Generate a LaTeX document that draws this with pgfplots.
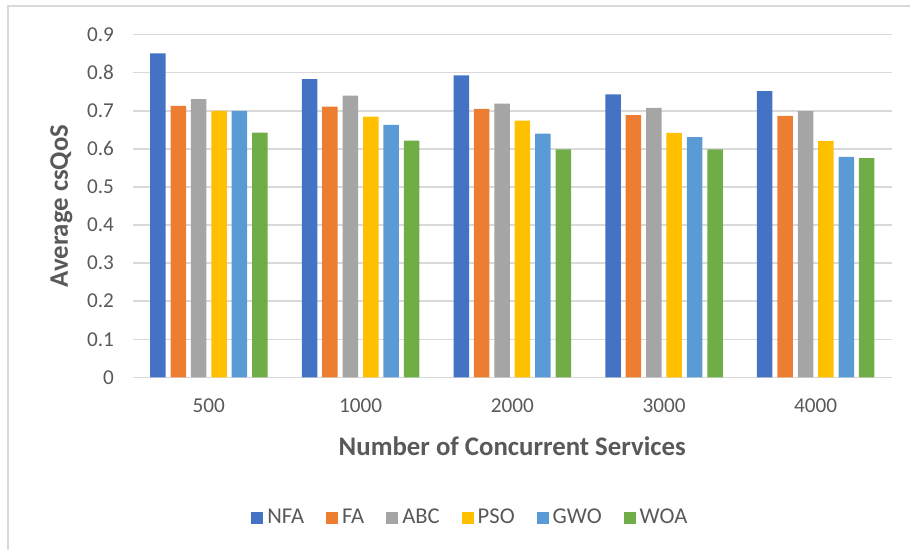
\documentclass[border=0pt]{standalone}
\usepackage{fontspec}
\setmainfont{Carlito}
\usepackage{pgfplots}
\pgfplotsset{compat=1.18}

\definecolor{cNFA}{HTML}{4472C4}
\definecolor{cFA}{HTML}{ED7D31}
\definecolor{cABC}{HTML}{A5A5A5}
\definecolor{cPSO}{HTML}{FFC000}
\definecolor{cGWO}{HTML}{5B9BD5}
\definecolor{cWOA}{HTML}{70AD47}
\definecolor{txt}{HTML}{595959}
\definecolor{grid}{HTML}{D9D9D9}

\begin{document}
\begin{tikzpicture}
% page area and the thin frame of the chart area
\useasboundingbox (-66.5pt,-86.35pt) rectangle (388.5pt,188.65pt);
\begin{scope}
\clip (-66.5pt,-86.35pt) rectangle (388.5pt,188.65pt);
\draw[grid, line width=0.7pt] (-62.5pt,-95pt) -- (-62.5pt,185.65pt) -- (400pt,185.65pt);
\end{scope}
\begin{axis}[
  at={(0,0)}, anchor=south west,
  scale only axis, width=379.3pt, height=171.3pt,
  xmin=-0.5, xmax=4.5, ymin=0, ymax=0.9,
  xtick={0,1,2,3,4},
  xticklabels={500,1000,2000,3000,4000},
  ytick={0,0.1,0.2,0.3,0.4,0.5,0.6,0.7,0.8,0.9},
  yticklabel style={/pgf/number format/fixed,/pgf/number format/fixed zerofill=false,/pgf/number format/precision=1},
  /pgf/number format/assume math mode=true,
  tick label style={text=txt, font=\fontsize{10.6}{12}\selectfont},
  xticklabel style={yshift=-7pt},
  yticklabel style={xshift=-6pt},
  major tick length=0pt,
  axis x line*=bottom, axis y line*=left,
  x axis line style={draw=grid, line width=0.7pt, -},
  y axis line style={draw=none},
  ymajorgrids, grid style={draw=grid, line width=0.7pt},
  xlabel={Number of Concurrent Services},
  ylabel={Average csQoS},
  label style={text=txt, font=\bfseries\fontsize{13.4}{15}\selectfont},
  xlabel style={yshift=-5.5pt},
  ylabel style={yshift=0.5pt},
  legend columns=-1,
  legend style={at={(0.446,-0.411)}, anchor=center, draw=none, fill=none,
    font=\fontsize{11.3}{13}\selectfont, text=txt,
    /tikz/every even column/.append style={column sep=9pt}},
  legend image code/.code={\fill[#1] (0pt,-3pt) rectangle (6pt,3pt);},
  bar width=7.75pt,
]
\addplot[ybar, bar shift=-25.5pt, fill=cNFA, draw=none] coordinates {(0,0.851) (1,0.783) (2,0.793) (3,0.743) (4,0.752)};
\addplot[ybar, bar shift=-15.3pt, fill=cFA, draw=none] coordinates {(0,0.713) (1,0.711) (2,0.705) (3,0.689) (4,0.687)};
\addplot[ybar, bar shift=-5.1pt, fill=cABC, draw=none] coordinates {(0,0.731) (1,0.740) (2,0.719) (3,0.708) (4,0.699)};
\addplot[ybar, bar shift=5.1pt, fill=cPSO, draw=none] coordinates {(0,0.700) (1,0.685) (2,0.674) (3,0.642) (4,0.621)};
\addplot[ybar, bar shift=15.3pt, fill=cGWO, draw=none] coordinates {(0,0.700) (1,0.663) (2,0.640) (3,0.631) (4,0.579)};
\addplot[ybar, bar shift=25.5pt, fill=cWOA, draw=none] coordinates {(0,0.643) (1,0.622) (2,0.599) (3,0.599) (4,0.576)};
\legend{NFA,FA,ABC,PSO,GWO,WOA}
\end{axis}
\end{tikzpicture}
\end{document}
